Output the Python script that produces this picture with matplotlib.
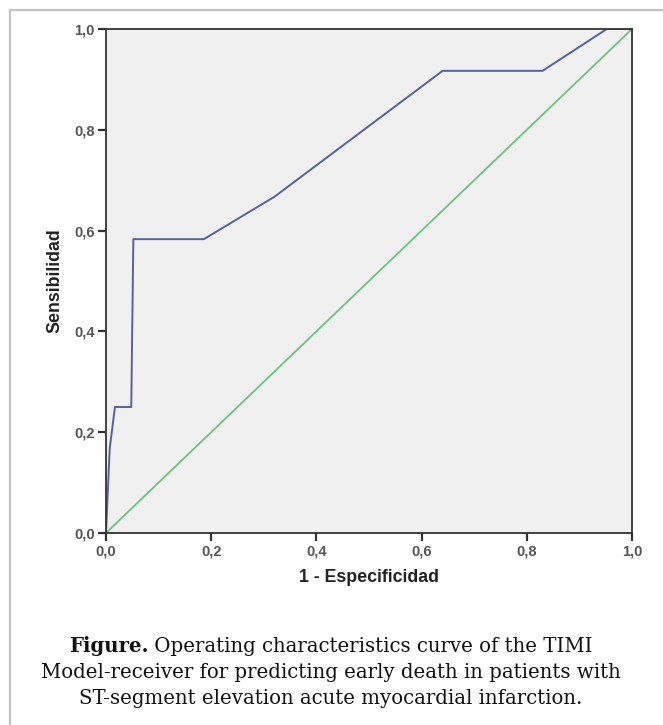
import matplotlib.pyplot as plt
from matplotlib.lines import Line2D

# ROC curve points (1 - especificidad, sensibilidad)
fpr = [0.0, 0.007, 0.017, 0.048, 0.052, 0.186, 0.32, 0.64, 0.83, 0.952, 1.0]
tpr = [0.0, 0.167, 0.25, 0.25, 0.583, 0.583, 0.667, 0.917, 0.917, 1.0, 1.0]
ref_line = [0.0, 1.0]
ticks = [0.0, 0.2, 0.4, 0.6, 0.8, 1.0]
tick_labels = ['0,0', '0,2', '0,4', '0,6', '0,8', '1,0']

caption_bold = 'Figure.'
caption_lines = [' Operating characteristics curve of the TIMI',
                 'Model-receiver for predicting early death in patients with',
                 'ST-segment elevation acute myocardial infarction.']

fig = plt.figure(figsize=(6.63, 7.25), dpi=100)
fig.patch.set_facecolor('white')

# outer frame (top and left edges visible)
fig.add_artist(Line2D([10/663, 1.0], [1 - 10/725, 1 - 10/725], color='#c4c4c4', lw=1.6))
fig.add_artist(Line2D([10/663, 10/663], [0.0, 1 - 10/725], color='#c4c4c4', lw=1.6))

ax = fig.add_axes([106/663, 192/725, 526/663, 504/725])
ax.set_facecolor('#f0f0f0')
ax.plot(ref_line, ref_line, color='#6cc27c', lw=1.3)
ax.plot(fpr, tpr, color='#55629a', lw=1.4)
ax.set_xlim(0, 1)
ax.set_ylim(0, 1)
ax.set_xticks(ticks)
ax.set_yticks(ticks)
ax.set_xticklabels(tick_labels)
ax.set_yticklabels(tick_labels)
for s in ax.spines.values():
    s.set_color('#333333')
    s.set_linewidth(1.3)
ax.tick_params(direction='out', length=6, width=1.6, color='#333333',
               labelsize=10.5, labelcolor='#555555', pad=2)
for lab in ax.get_xticklabels() + ax.get_yticklabels():
    lab.set_fontfamily('Liberation Sans')
    lab.set_fontweight('bold')
ax.set_xlabel('1 - Especificidad', fontsize=12.8, fontweight='bold',
              family='Liberation Sans', color='#222222', labelpad=8)
ax.set_ylabel('Sensibilidad', fontsize=12.8, fontweight='bold',
              family='Liberation Sans', color='#222222', labelpad=8)

# caption
cap_kw = dict(family='DejaVu Serif', fontsize=14.2, color='#111111', va='baseline')
fig.canvas.draw()
r = fig.canvas.get_renderer()
t1 = fig.text(0, 0, caption_bold, fontweight='bold', **cap_kw)
t2 = fig.text(0, 0, caption_lines[0], **cap_kw)
w1 = t1.get_window_extent(r).width
w2 = t2.get_window_extent(r).width
x0 = (331 - (w1 + w2) / 2) / 663
y1 = 1 - 652/725
t1.set_position((x0, y1))
t2.set_position((x0 + w1 / 663, y1))
fig.text(331/663, 1 - 678/725, caption_lines[1], ha='center', **cap_kw)
fig.text(331/663, 1 - 704/725, caption_lines[2], ha='center', **cap_kw)

fig.savefig('out.png', dpi=100)
